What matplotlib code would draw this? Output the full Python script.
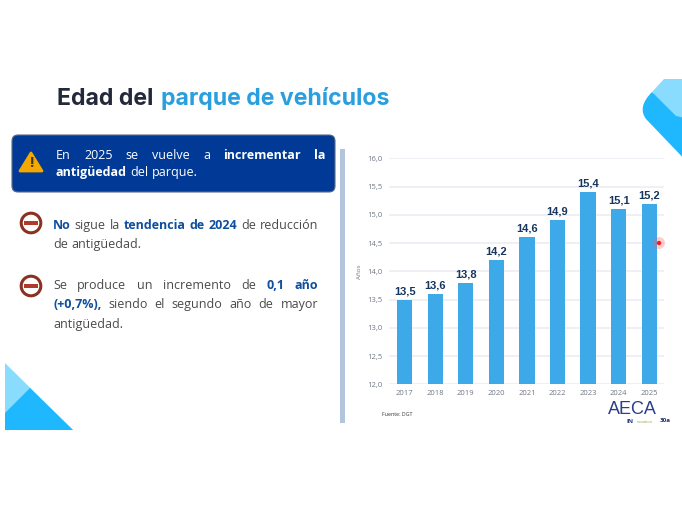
import matplotlib
matplotlib.use('Agg')
import matplotlib.pyplot as plt
from matplotlib.patches import Polygon, FancyBboxPatch, Circle, PathPatch, Rectangle
from matplotlib.path import Path

# Datos
anios = ['2017', '2018', '2019', '2020', '2021', '2022', '2023', '2024', '2025']
edad = [13.5, 13.6, 13.8, 14.2, 14.6, 14.9, 15.4, 15.1, 15.2]
ticks_y = [12.0, 12.5, 13.0, 13.5, 14.0, 14.5, 15.0, 15.5, 16.0]

AZUL_BARRA = '#3ea9e8'
AZUL_TITULO = '#2a9fe0'
AZUL_OSCURO = '#003a96'
AZUL_TEXTO = '#0f4f9e'
GRIS_TEXTO = '#4a4a4a'
ANCHO, ALTO = 682, 512

plt.rcParams['font.family'] = ['Open Sans', 'DejaVu Sans']
fig = plt.figure(figsize=(6.82, 5.12), dpi=100, facecolor='white')

# Capa de fondo en coordenadas de pixel
fondo = fig.add_axes([0, 0, 1, 1])
fondo.set_xlim(0, ANCHO)
fondo.set_ylim(ALTO, 0)
fondo.axis('off')

# Triangulos decorativos
fondo.add_patch(Polygon([(5, 363), (5, 430), (73, 430)], fc='#8adcff', ec='none'))
fondo.add_patch(Polygon([(5, 413), (30, 388), (73, 430), (5, 430)], fc='#1fb8ff', ec='none'))

# Rombo de la esquina superior derecha
forma = Path([(652, 92), (637, 107), (646, 119), (690, 165), (690, 118), (652, 92)],
             [Path.MOVETO, Path.CURVE3, Path.CURVE3, Path.LINETO, Path.LINETO, Path.CLOSEPOLY])
fondo.add_patch(PathPatch(forma, fc='#1fb8ff', ec='none'))
fondo.add_patch(Polygon([(664, 79), (690, 79), (690, 119), (676, 116), (652, 92)], fc='#8adcff', ec='none'))

# Titulo
fondo.text(57, 105, 'Edad del', fontsize=16.6, fontweight='bold', color='#23293a', va='baseline',
           family=['Inter', 'DejaVu Sans'])
fondo.text(161, 105, 'parque de vehículos', fontsize=16.6, fontweight='bold', color=AZUL_TITULO, va='baseline',
           family=['Inter', 'DejaVu Sans'])
fig.canvas.draw()
r = fig.canvas.get_renderer()

# Recuadro superior
fondo.add_patch(FancyBboxPatch((15, 138), 317, 51, boxstyle='round,pad=3,rounding_size=6',
                               fc=AZUL_OSCURO, ec='#5a6a8a', lw=0.8))
fondo.add_patch(Polygon([(31, 153), (20, 171), (42, 171)], closed=True, fc='#f5a800', ec='#f5a800', lw=2, joinstyle='round'))
fondo.text(31, 163, '!', fontsize=11, fontweight='bold', color='#3a3a2a', ha='center', va='center')


def linea(y, x0, x1, palabras, size=9):
    # Escribe una linea de palabras sobre la misma base; si x1 no es None la justifica hasta ese borde
    textos = []
    total = 0
    for palabra, color, negrita in palabras:
        t = fondo.text(x0, y + 4, palabra, fontsize=size, color=color, va='baseline',
                       fontweight='bold' if negrita else 'normal')
        ancho = t.get_window_extent(r).width
        textos.append((t, ancho))
        total += ancho
    if x1 is None:
        hueco = 3.4
    else:
        hueco = (x1 - x0 - total) / (len(palabras) - 1)
    x = x0
    for t, ancho in textos:
        t.set_x(x)
        x += ancho + hueco


B = 'white'
linea(155, 56, 326, [('En', B, 0), ('2025', B, 0), ('se', B, 0), ('vuelve', B, 0), ('a', B, 0),
                     ('incrementar', B, 1), ('la', B, 1)])
linea(172, 56, None, [('antigüedad', B, 1), ('del', B, 0), ('parque.', B, 0)])

G = GRIS_TEXTO
A = AZUL_TEXTO
linea(225, 53, 318, [('No', A, 1), ('sigue', G, 0), ('la', G, 0), ('tendencia', A, 1), ('de', A, 1),
                     ('2024', A, 1), ('de', G, 0), ('reducción', G, 0)])
linea(244, 53, None, [('de', G, 0), ('antigüedad.', G, 0)])
linea(285, 53, 318, [('Se', G, 0), ('produce', G, 0), ('un', G, 0), ('incremento', G, 0), ('de', G, 0),
                     ('0,1', A, 1), ('año', A, 1)])
linea(304, 53, 318, [('(+0,7%),', A, 1), ('siendo', G, 0), ('el', G, 0), ('segundo', G, 0), ('año', G, 0),
                     ('de', G, 0), ('mayor', G, 0)])
linea(324, 53, None, [('antigüedad.', G, 0)])

# Iconos de prohibido
for cy in (223, 286):
    fondo.add_patch(Circle((31, cy), 9.8, fc='white', ec='#8a3222', lw=2.2))
    fondo.add_patch(Rectangle((24, cy - 1.6), 14, 3.2, fc='#b03a2e', ec='none'))

# Separador vertical
fondo.add_patch(Rectangle((340, 149), 5, 274, fc='#b3c5dc', ec='none'))

# Grafico de barras
izq, der, arr, aba = 389.3, 664, 158.3, 384.3
ax = fig.add_axes([izq / ANCHO, 1 - aba / ALTO, (der - izq) / ANCHO, (aba - arr) / ALTO])
ax.patch.set_alpha(0)
pos = range(len(anios))
barras = ax.bar(pos, edad, width=0.5, color=AZUL_BARRA, zorder=3)
ax.set_xlim(-0.5, 8.48)
ax.set_ylim(12, 16)
ax.set_xticks(list(pos), anios)
ax.set_yticks(ticks_y, [f'{v:.1f}'.replace('.', ',') for v in ticks_y])
ax.tick_params(length=0, labelsize=5.5, labelcolor='#6f7785', pad=5)
ax.tick_params(axis='x', pad=4)
ax.grid(axis='y', color='#eef0f6', lw=1.4, zorder=0)
for lado in ax.spines.values():
    lado.set_visible(False)
ax.set_ylabel('Años', fontsize=4.5, color='#6f7785', labelpad=4)
for x, v in zip(pos, edad):
    ax.annotate(f'{v:.1f}'.replace('.', ','), (x, v), xytext=(0, 2.5), textcoords='offset points',
                ha='center', va='bottom', fontsize=8, fontweight='bold', color='#17365f',
                family=['Liberation Sans', 'DejaVu Sans'], zorder=4)

# Punto rojo del puntero
encima = fig.add_axes([0, 0, 1, 1])
encima.set_xlim(0, ANCHO)
encima.set_ylim(ALTO, 0)
encima.axis('off')
encima.add_patch(Circle((659, 243), 6, fc='#ff5a5a', ec='none', alpha=0.3))
encima.add_patch(Circle((659, 243), 2.2, fc='#f02020', ec='none'))

# Fuente y logotipo
encima.text(382, 415, 'Fuente: DGT', fontsize=3.8, color='#333333', va='center')
encima.text(632, 409.5, 'AECA', fontsize=13, color='#2a3f8a', ha='center', va='center',
            family=['Liberation Sans', 'DejaVu Sans'])
encima.text(630, 421.5, 'IN', fontsize=4.5, fontweight='bold', color='#2a3f8a', ha='center', va='center')
encima.text(645, 422, 'novation', fontsize=2.8, color='#8fae3a', ha='center', va='center')
encima.text(665, 420.5, '30a', fontsize=4.5, fontweight='bold', color='#1f2f6f', ha='center', va='center')

fig.savefig('out.png', dpi=100)
plt.close(fig)
